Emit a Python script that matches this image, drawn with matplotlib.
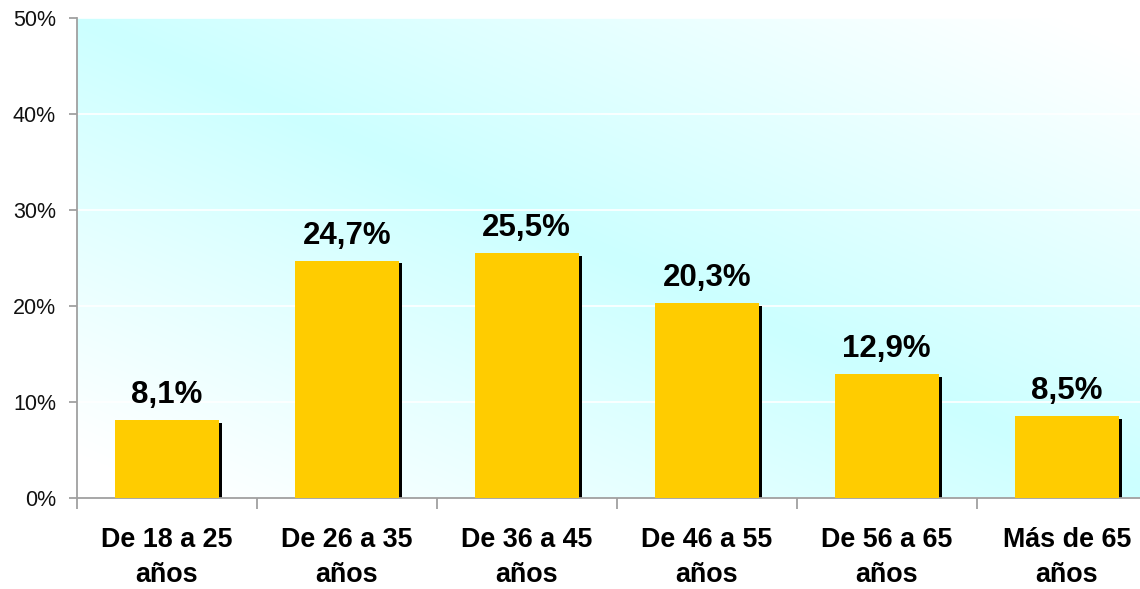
import numpy as np
import matplotlib
matplotlib.use("Agg")
from matplotlib import pyplot as plt
from matplotlib import transforms
from matplotlib.colors import LinearSegmentedColormap

# Datos del gráfico
categorias = ["De 18 a 25\naños", "De 26 a 35\naños", "De 36 a 45\naños",
              "De 46 a 55\naños", "De 56 a 65\naños", "Más de 65\naños"]
porcentajes = [8.1, 24.7, 25.5, 20.3, 12.9, 8.5]
etiquetas = ["8,1%", "24,7%", "25,5%", "20,3%", "12,9%", "8,5%"]
yticks = [0, 10, 20, 30, 40, 50]

plt.rcParams['font.family'] = ['Liberation Sans', 'DejaVu Sans']

fig = plt.figure(figsize=(11.4, 5.89), dpi=100)
# el área del gráfico se sale un poco por la derecha, como en el original
ax = fig.add_axes([0.0673, 0.1545, 0.9474, 0.8149])

# fondo degradado (cian en la diagonal, blanco en las esquinas)
u, v = np.meshgrid(np.linspace(0, 1, 300), np.linspace(0, 1, 300))
t = np.clip(np.abs(u + v - 1) * 1.1, 0, 1)
cmap = LinearSegmentedColormap.from_list("fondo", ["#CCFFFF", "#FFFFFF"])
ax.imshow(t, cmap=cmap, vmin=0, vmax=1, origin="lower", extent=[0, 1, 0, 1],
          transform=ax.transAxes, aspect="auto", zorder=0)

x = np.arange(len(categorias))
ancho = 0.578

# sombra negra desplazada
sombra = ax.transData + transforms.ScaledTranslation(3.5 / 100, -2.5 / 100, fig.dpi_scale_trans)
ax.bar(x, porcentajes, width=ancho, color="black", zorder=2, transform=sombra)
ax.bar(x, porcentajes, width=ancho, color="#FFCC00", zorder=3)

for xi, val, lab in zip(x, porcentajes, etiquetas):
    ax.annotate(lab, (xi, val), xytext=(0, 12.5), textcoords="offset points",
                ha="center", va="baseline", fontsize=22.5, fontweight="bold", zorder=4)

ax.set_xlim(-0.5, len(categorias) - 0.5)
ax.set_ylim(0, 50)
ax.set_yticks(yticks)
ax.set_yticklabels([f"{v}%" for v in yticks], fontsize=15.5, color="#111111")
ax.yaxis.grid(True, color="white", linewidth=1.2, zorder=1)
ax.set_axisbelow(True)

ax.set_xticks(x)
ax.set_xticklabels(categorias, fontsize=19.4, fontweight="bold", linespacing=1.42)
ax.set_xticks(np.arange(len(categorias) + 1) - 0.5, minor=True)
ax.tick_params(axis="x", which="major", length=0, pad=21)
ax.tick_params(axis="x", which="minor", length=8, color="#A0A0A0", width=1.3)
ax.tick_params(axis="y", length=6, color="#A0A0A0", width=1.3, pad=9)

for lado in ["top", "right"]:
    ax.spines[lado].set_visible(False)
for lado in ["left", "bottom"]:
    ax.spines[lado].set_color("#A0A0A0")
    ax.spines[lado].set_linewidth(1.3)

fig.savefig("out.png", dpi=100)
